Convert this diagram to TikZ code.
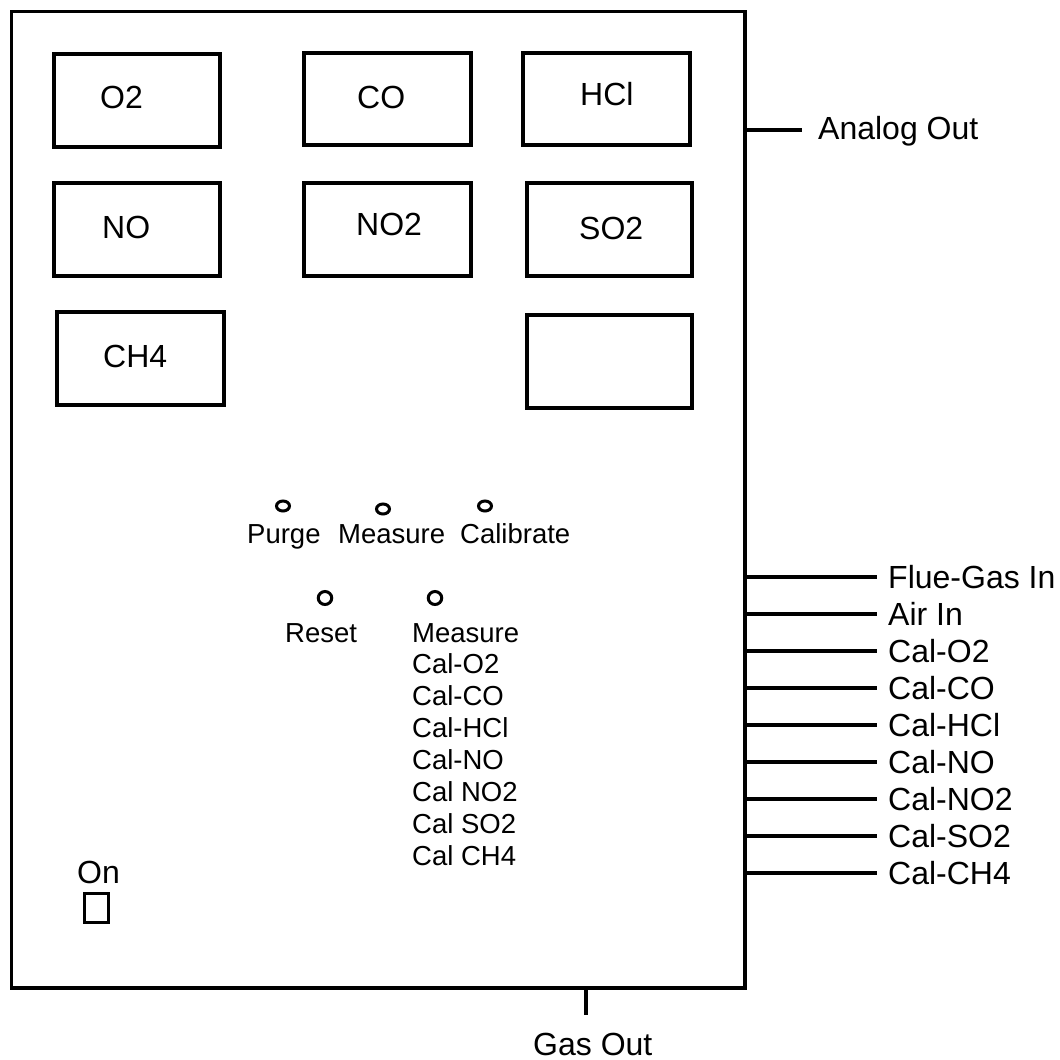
\documentclass[tikz,border=0pt]{standalone}
\usepackage{fontspec}
\setmainfont{Liberation Sans}
\usetikzlibrary{shapes.geometric}
\begin{document}
\begin{tikzpicture}[x=1pt,y=-1pt,
  big/.style={font=\fontsize{32}{32}\selectfont, inner sep=0pt, anchor=base west},
  small/.style={font=\fontsize{27.5}{27.5}\selectfont, inner sep=0pt, anchor=base west},
  box/.style={draw, line width=3.4pt, inner sep=0pt, rectangle},
  gasbox/.style={box, minimum width=166pt, minimum height=93pt},
  wire/.style={line width=3.2pt},
  ledsmall/.style={draw, ellipse, line width=3pt, inner sep=0pt, minimum width=13pt, minimum height=10pt},
  ledbig/.style={draw, ellipse, line width=3pt, inner sep=0pt, minimum width=13.5pt, minimum height=13pt}]
\useasboundingbox (0,0) rectangle (1060,1060);

% main panel
\node[box, line width=3.8pt, minimum width=733.5pt, minimum height=976.5pt, anchor=north west] (panel) at (9.5,9.5) {};

% gas display boxes
\node[gasbox] (bo2)  at (137,100.5) {};
\node[gasbox, minimum width=167pt, minimum height=92pt] (bco)  at (387.5,99) {};
\node[gasbox, minimum width=167pt, minimum height=92pt] (bhcl) at (606.5,99) {};
\node[gasbox] (bno)  at (137,229.5) {};
\node[gasbox, minimum width=167pt] (bno2) at (387.5,229.5) {};
\node[gasbox, minimum width=165pt] (bso2) at (609.5,229.5) {};
\node[gasbox, minimum width=167pt] (bch4) at (140.5,358.5) {};
\node[gasbox, minimum width=165pt] (bblank) at (609.5,361.5) {};

\node[big] (to2)  at (100,108) {O2};
\node[big] (tco)  at (357,108) {CO};
\node[big] (thcl) at (580,105) {HCl};
\node[big] (tno)  at (102,238) {NO};
\node[big] (tno2) at (356,235) {NO2};
\node[big] (tso2) at (579,239) {SO2};
\node[big] (tch4) at (103,367) {CH4};

% analog out
\coordinate (aoend) at (802,130);
\draw[wire] (aoend -| panel.east) -- (aoend);
\node[big] (tao) at (818,139) {Analog Out};

% LEDs
\node[ledsmall] (lpurge) at (283,506) {};
\node[ledsmall] (lmeas)  at (383,509) {};
\node[ledsmall] (lcal)   at (485,506) {};
\node[ledbig] (lreset) at (325,598) {};
\node[ledbig] (lsel)   at (435,598) {};

\node[small] (tpurge) at (247,543) {Purge};
\node[small] (tmeas)  at (338,543) {Measure};
\node[small] (tcal)   at (460,543) {Calibrate};
\node[small] (treset) at (285,642) {Reset};

\node[small] (s1) at (412,642) {Measure};
\node[small] (s2) at (412,673.5) {Cal-O2};
\node[small] (s3) at (412,705) {Cal-CO};
\node[small] (s4) at (412,737) {Cal-HCl};
\node[small] (s5) at (412,769) {Cal-NO};
\node[small] (s6) at (412,801) {Cal NO2};
\node[small] (s7) at (412,833) {Cal SO2};
\node[small] (s8) at (412,865) {Cal CH4};

% right side inlets
\foreach \y/\lab/\nm in {577/Flue-Gas In/flue, 614/Air In/air, 651/Cal-O2/co2, 688/Cal-CO/cco, 725/Cal-HCl/chcl, 762/Cal-NO/cno, 799/Cal-NO2/cno2, 836/Cal-SO2/cso2, 873/Cal-CH4/cch4} {
  \coordinate (e\nm) at (877,\y);
  \draw[wire] (e\nm -| panel.east) -- (e\nm);
  \node[big] (t\nm) at (888,\y+11) {\lab};
}

% on switch
\node[big] (ton) at (77,883) {On};
\node[box, line width=3pt, minimum width=24pt, minimum height=29pt] (sw) at (96,907.5) {};

% gas out
\coordinate (goend) at (586,1015);
\draw[wire] (goend |- panel.south) -- (goend);
\node[big] (tgo) at (533,1055) {Gas Out};
\end{tikzpicture}
\end{document}
